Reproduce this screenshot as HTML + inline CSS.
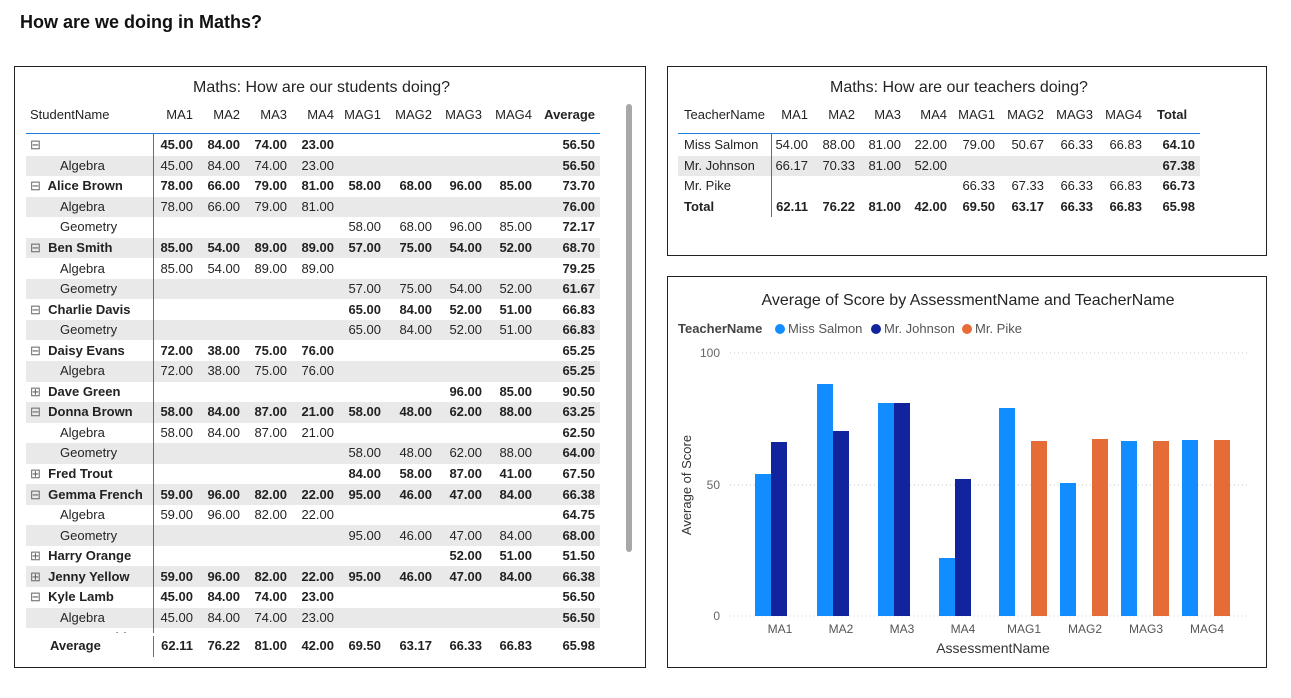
<!DOCTYPE html>
<html><head><meta charset="utf-8"><style>
body{margin:0;width:1291px;height:698px;background:#fff;font-family:"Segoe UI","Liberation Sans",sans-serif;color:#252423;position:relative;overflow:hidden}
.abs{position:absolute}
h1{position:absolute;left:20px;top:12px;margin:0;font-size:18px;font-weight:bold;color:#111}
.box{position:absolute;border:1px solid #222;background:#fff}
.title{position:absolute;font-size:16px;color:#252423;white-space:nowrap}
table{border-collapse:collapse;font-size:13px;table-layout:fixed}
td{height:20.55px;padding:0 5px 0 0;text-align:right;white-space:nowrap;overflow:hidden;line-height:20px}
td.n{text-align:left;padding-left:4px}
tr.g td{background:#e9e9e9}
tr.b td{font-weight:bold;color:#222}
td.v{border-left:1px solid #1f7fd8}
.hd td{height:37px;vertical-align:middle;padding-top:2px}
.r1 td{padding-top:1px}
.ic{color:#666;font-weight:normal}
</style></head><body>
<h1>How are we doing in Maths?</h1>

<div class="box" style="left:14px;top:66px;width:630px;height:600px"></div>
<div class="title" style="left:193px;top:79px">Maths: How are our students doing?</div>
<div class="abs" style="left:26px;top:94px;width:574px;overflow:hidden;height:539px">
<table style="width:574px">
<colgroup><col style="width:127px"><col style="width:45px"><col style="width:47px"><col style="width:47px"><col style="width:47px"><col style="width:47px"><col style="width:51px"><col style="width:50px"><col style="width:50px"><col style="width:63px"></colgroup>
<tr class="hd" style="border-bottom:1.5px solid #1f7fd8"><td class="n">StudentName</td><td>MA1</td><td>MA2</td><td>MA3</td><td>MA4</td><td>MAG1</td><td>MAG2</td><td>MAG3</td><td>MAG4</td><td style="font-weight:bold">Average</td></tr>
<tr class="b r1"><td class="n"><span class="ic">⊟</span></td><td class="v">45.00</td><td>84.00</td><td>74.00</td><td>23.00</td><td></td><td></td><td></td><td></td><td>56.50</td></tr>
<tr class="g"><td class="n" style="padding-left:34px">Algebra</td><td class="v">45.00</td><td>84.00</td><td>74.00</td><td>23.00</td><td></td><td></td><td></td><td></td><td><b>56.50</b></td></tr>
<tr class="b"><td class="n"><span class="ic">⊟</span>&nbsp; Alice Brown</td><td class="v">78.00</td><td>66.00</td><td>79.00</td><td>81.00</td><td>58.00</td><td>68.00</td><td>96.00</td><td>85.00</td><td>73.70</td></tr>
<tr class="g"><td class="n" style="padding-left:34px">Algebra</td><td class="v">78.00</td><td>66.00</td><td>79.00</td><td>81.00</td><td></td><td></td><td></td><td></td><td><b>76.00</b></td></tr>
<tr><td class="n" style="padding-left:34px">Geometry</td><td class="v"></td><td></td><td></td><td></td><td>58.00</td><td>68.00</td><td>96.00</td><td>85.00</td><td><b>72.17</b></td></tr>
<tr class="b g"><td class="n"><span class="ic">⊟</span>&nbsp; Ben Smith</td><td class="v">85.00</td><td>54.00</td><td>89.00</td><td>89.00</td><td>57.00</td><td>75.00</td><td>54.00</td><td>52.00</td><td>68.70</td></tr>
<tr><td class="n" style="padding-left:34px">Algebra</td><td class="v">85.00</td><td>54.00</td><td>89.00</td><td>89.00</td><td></td><td></td><td></td><td></td><td><b>79.25</b></td></tr>
<tr class="g"><td class="n" style="padding-left:34px">Geometry</td><td class="v"></td><td></td><td></td><td></td><td>57.00</td><td>75.00</td><td>54.00</td><td>52.00</td><td><b>61.67</b></td></tr>
<tr class="b"><td class="n"><span class="ic">⊟</span>&nbsp; Charlie Davis</td><td class="v"></td><td></td><td></td><td></td><td>65.00</td><td>84.00</td><td>52.00</td><td>51.00</td><td>66.83</td></tr>
<tr class="g"><td class="n" style="padding-left:34px">Geometry</td><td class="v"></td><td></td><td></td><td></td><td>65.00</td><td>84.00</td><td>52.00</td><td>51.00</td><td><b>66.83</b></td></tr>
<tr class="b"><td class="n"><span class="ic">⊟</span>&nbsp; Daisy Evans</td><td class="v">72.00</td><td>38.00</td><td>75.00</td><td>76.00</td><td></td><td></td><td></td><td></td><td>65.25</td></tr>
<tr class="g"><td class="n" style="padding-left:34px">Algebra</td><td class="v">72.00</td><td>38.00</td><td>75.00</td><td>76.00</td><td></td><td></td><td></td><td></td><td><b>65.25</b></td></tr>
<tr class="b"><td class="n"><span class="ic">⊞</span>&nbsp; Dave Green</td><td class="v"></td><td></td><td></td><td></td><td></td><td></td><td>96.00</td><td>85.00</td><td>90.50</td></tr>
<tr class="b g"><td class="n"><span class="ic">⊟</span>&nbsp; Donna Brown</td><td class="v">58.00</td><td>84.00</td><td>87.00</td><td>21.00</td><td>58.00</td><td>48.00</td><td>62.00</td><td>88.00</td><td>63.25</td></tr>
<tr><td class="n" style="padding-left:34px">Algebra</td><td class="v">58.00</td><td>84.00</td><td>87.00</td><td>21.00</td><td></td><td></td><td></td><td></td><td><b>62.50</b></td></tr>
<tr class="g"><td class="n" style="padding-left:34px">Geometry</td><td class="v"></td><td></td><td></td><td></td><td>58.00</td><td>48.00</td><td>62.00</td><td>88.00</td><td><b>64.00</b></td></tr>
<tr class="b"><td class="n"><span class="ic">⊞</span>&nbsp; Fred Trout</td><td class="v"></td><td></td><td></td><td></td><td>84.00</td><td>58.00</td><td>87.00</td><td>41.00</td><td>67.50</td></tr>
<tr class="b g"><td class="n"><span class="ic">⊟</span>&nbsp; Gemma French</td><td class="v">59.00</td><td>96.00</td><td>82.00</td><td>22.00</td><td>95.00</td><td>46.00</td><td>47.00</td><td>84.00</td><td>66.38</td></tr>
<tr><td class="n" style="padding-left:34px">Algebra</td><td class="v">59.00</td><td>96.00</td><td>82.00</td><td>22.00</td><td></td><td></td><td></td><td></td><td><b>64.75</b></td></tr>
<tr class="g"><td class="n" style="padding-left:34px">Geometry</td><td class="v"></td><td></td><td></td><td></td><td>95.00</td><td>46.00</td><td>47.00</td><td>84.00</td><td><b>68.00</b></td></tr>
<tr class="b"><td class="n"><span class="ic">⊞</span>&nbsp; Harry Orange</td><td class="v"></td><td></td><td></td><td></td><td></td><td></td><td>52.00</td><td>51.00</td><td>51.50</td></tr>
<tr class="b g"><td class="n"><span class="ic">⊞</span>&nbsp; Jenny Yellow</td><td class="v">59.00</td><td>96.00</td><td>82.00</td><td>22.00</td><td>95.00</td><td>46.00</td><td>47.00</td><td>84.00</td><td>66.38</td></tr>
<tr class="b"><td class="n"><span class="ic">⊟</span>&nbsp; Kyle Lamb</td><td class="v">45.00</td><td>84.00</td><td>74.00</td><td>23.00</td><td></td><td></td><td></td><td></td><td>56.50</td></tr>
<tr class="g"><td class="n" style="padding-left:34px">Algebra</td><td class="v">45.00</td><td>84.00</td><td>74.00</td><td>23.00</td><td></td><td></td><td></td><td></td><td><b>56.50</b></td></tr>
<tr class="b"><td class="n"><span class="ic">⊟</span>&nbsp; Lara Farnold</td><td class="v"></td><td></td><td></td><td></td><td>84.00</td><td>58.00</td><td>87.00</td><td>41.00</td><td>67.50</td></tr>
</table></div>
<div class="abs" style="left:26px;top:636px;width:574px">
<table style="width:574px">
<colgroup><col style="width:127px"><col style="width:45px"><col style="width:47px"><col style="width:47px"><col style="width:47px"><col style="width:47px"><col style="width:51px"><col style="width:50px"><col style="width:50px"><col style="width:63px"></colgroup>
<tr class="b"><td class="n" style="padding-left:24px">Average</td><td class="v">62.11</td><td>76.22</td><td>81.00</td><td>42.00</td><td>69.50</td><td>63.17</td><td>66.33</td><td>66.83</td><td>65.98</td></tr>
</table></div>
<div class="abs" style="left:626px;top:104px;width:6px;height:448px;background:#a8a8a8;border-radius:3px"></div>

<div class="box" style="left:667px;top:66px;width:598px;height:188px"></div>
<div class="title" style="left:830px;top:79px">Maths: How are our teachers doing?</div>
<div class="abs" style="left:678px;top:94px;width:522px">
<table style="width:522px">
<colgroup><col style="width:93px"><col style="width:42px"><col style="width:47px"><col style="width:46px"><col style="width:46px"><col style="width:48px"><col style="width:49px"><col style="width:49px"><col style="width:49px"><col style="width:53px"></colgroup>
<tr class="hd" style="border-bottom:1.5px solid #1f7fd8"><td class="n" style="padding-left:6px">TeacherName</td><td>MA1</td><td>MA2</td><td>MA3</td><td>MA4</td><td>MAG1</td><td>MAG2</td><td>MAG3</td><td>MAG4</td><td style="font-weight:bold;text-align:left;padding-left:10px">Total</td></tr>
<tr class="r1"><td class="n" style="padding-left:6px">Miss Salmon</td><td class="v">54.00</td><td>88.00</td><td>81.00</td><td>22.00</td><td>79.00</td><td>50.67</td><td>66.33</td><td>66.83</td><td><b>64.10</b></td></tr>
<tr class="g"><td class="n" style="padding-left:6px">Mr. Johnson</td><td class="v">66.17</td><td>70.33</td><td>81.00</td><td>52.00</td><td></td><td></td><td></td><td></td><td><b>67.38</b></td></tr>
<tr><td class="n" style="padding-left:6px">Mr. Pike</td><td class="v"></td><td></td><td></td><td></td><td>66.33</td><td>67.33</td><td>66.33</td><td>66.83</td><td><b>66.73</b></td></tr>
<tr class="b"><td class="n" style="padding-left:6px">Total</td><td class="v">62.11</td><td>76.22</td><td>81.00</td><td>42.00</td><td>69.50</td><td>63.17</td><td>66.33</td><td>66.83</td><td>65.98</td></tr>
</table></div>

<div class="box" style="left:667px;top:276px;width:598px;height:390px"></div>
<svg class="abs" style="left:0;top:0" width="1291" height="698" font-family="Segoe UI, Liberation Sans, sans-serif">
<text x="968" y="305" font-size="16" text-anchor="middle" fill="#252423">Average of Score by AssessmentName and TeacherName</text>
<text x="678" y="333" font-size="13" font-weight="bold" fill="#444">TeacherName</text>
<circle cx="780" cy="329" r="5" fill="#118DFF"/><text x="788" y="333" font-size="13" fill="#555">Miss Salmon</text>
<circle cx="876" cy="329" r="5" fill="#12239E"/><text x="884" y="333" font-size="13" fill="#555">Mr. Johnson</text>
<circle cx="967" cy="329" r="5" fill="#E66C37"/><text x="975" y="333" font-size="13" fill="#555">Mr. Pike</text>
<g stroke="#ccc" stroke-dasharray="1,3"><line x1="730" x2="1250" y1="353" y2="353"/><line x1="730" x2="1250" y1="485" y2="485"/><line x1="730" x2="1250" y1="616" y2="616"/></g>
<g font-size="12" fill="#666" text-anchor="end"><text x="720" y="357">100</text><text x="720" y="489">50</text><text x="720" y="620">0</text></g>
<text transform="translate(691,485) rotate(-90)" font-size="13" fill="#333" text-anchor="middle">Average of Score</text>
<g>
<rect x="755" y="474" width="16" height="142" fill="#118DFF"/><rect x="771" y="442" width="16" height="174" fill="#12239E"/>
<rect x="817" y="384" width="16" height="232" fill="#118DFF"/><rect x="833" y="431" width="16" height="185" fill="#12239E"/>
<rect x="878" y="403" width="16" height="213" fill="#118DFF"/><rect x="894" y="403" width="16" height="213" fill="#12239E"/>
<rect x="939" y="558" width="16" height="58" fill="#118DFF"/><rect x="955" y="479" width="16" height="137" fill="#12239E"/>
<rect x="999" y="408" width="16" height="208" fill="#118DFF"/><rect x="1031" y="441" width="16" height="175" fill="#E66C37"/>
<rect x="1060" y="483" width="16" height="133" fill="#118DFF"/><rect x="1092" y="439" width="16" height="177" fill="#E66C37"/>
<rect x="1121" y="441" width="16" height="175" fill="#118DFF"/><rect x="1153" y="441" width="16" height="175" fill="#E66C37"/>
<rect x="1182" y="440" width="16" height="176" fill="#118DFF"/><rect x="1214" y="440" width="16" height="176" fill="#E66C37"/>
</g>
<g font-size="12" fill="#555" text-anchor="middle"><text x="780" y="633">MA1</text><text x="841" y="633">MA2</text><text x="902" y="633">MA3</text><text x="963" y="633">MA4</text><text x="1024" y="633">MAG1</text><text x="1085" y="633">MAG2</text><text x="1146" y="633">MAG3</text><text x="1207" y="633">MAG4</text></g>
<text x="993" y="653" font-size="14" fill="#333" text-anchor="middle">AssessmentName</text>
</svg>
</body></html>
